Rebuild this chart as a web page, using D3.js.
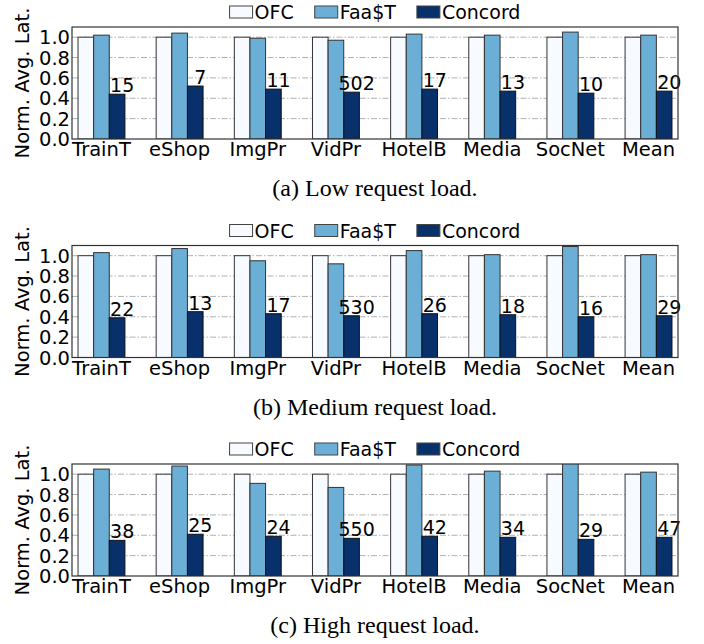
<!DOCTYPE html>
<html>
<head>
<meta charset="utf-8">
<script src="https://cdn.jsdelivr.net/npm/d3@7"></script>
<style>
  body { margin: 0; background: #fff; }
  svg { display: block; }
  .sans { font-family: "DejaVu Sans", sans-serif; }
  .serif { font-family: "Liberation Serif", "Times New Roman", serif; }
</style>
</head>
<body>
<script>
const width = 704;
const height = 644;

const apps = ["TrainT", "eShop", "ImgPr", "VidPr", "HotelB", "Media", "SocNet", "Mean"];
const series = ["OFC", "Faa$T", "Concord"];
const colors = ["#f7fbff", "#6baed6", "#08306b"];
const yTicks = [0.0, 0.2, 0.4, 0.6, 0.8, 1.0];

// low load
const ofcLow = [1, 1, 1, 1, 1, 1, 1, 1];
const faastLow = [1.02, 1.04, 0.99, 0.97, 1.03, 1.02, 1.05, 1.02];
const concordLow = [0.44, 0.52, 0.49, 0.46, 0.49, 0.47, 0.45, 0.47];
const concordLowLabels = ["15", "7", "11", "502", "17", "13", "10", "20"];

// medium load
const ofcMed = [1, 1, 1, 1, 1, 1, 1, 1];
const faastMed = [1.03, 1.07, 0.95, 0.92, 1.05, 1.01, 1.09, 1.01];
const concordMed = [0.39, 0.45, 0.43, 0.41, 0.43, 0.42, 0.40, 0.41];
const concordMedLabels = ["22", "13", "17", "530", "26", "18", "16", "29"];

// high load
const ofcHigh = [1, 1, 1, 1, 1, 1, 1, 1];
const faastHigh = [1.05, 1.08, 0.91, 0.87, 1.09, 1.03, 1.12, 1.02];
const concordHigh = [0.35, 0.41, 0.39, 0.37, 0.39, 0.38, 0.36, 0.38];
const concordHighLabels = ["38", "25", "24", "550", "42", "34", "29", "47"];

const panels = [
  { top: 27, vals: [ofcLow, faastLow, concordLow], labels: concordLowLabels, caption: "(a) Low request load." },
  { top: 245.5, vals: [ofcMed, faastMed, concordMed], labels: concordMedLabels, caption: "(b) Medium request load." },
  { top: 464, vals: [ofcHigh, faastHigh, concordHigh], labels: concordHighLabels, caption: "(c) High request load." }
];

const left = 72, right = 678, axH = 112;
const barW = 0.2;

const svg = d3.select("body")
  .append("svg")
  .attr("width", width)
  .attr("height", height);

const x = d3.scaleLinear().domain([-0.377, 7.377]).range([0, right - left]);
const y = d3.scaleLinear().domain([0, 1.1]).range([axH, 0]);

panels.forEach((p, pi) => {
  const g = svg.append("g").attr("transform", `translate(${left},${p.top})`);

  g.append("clipPath").attr("id", "clip" + pi)
    .append("rect").attr("width", right - left).attr("height", axH);

  // grid
  g.selectAll(".grid")
    .data(yTicks.slice(1))
    .enter().append("line")
    .attr("x1", 0).attr("x2", right - left)
    .attr("y1", d => y(d)).attr("y2", d => y(d))
    .attr("stroke", "#b0b0b0")
    .attr("stroke-width", 1)
    .attr("stroke-dasharray", "6,2,1.5,2");

  // bars
  const bars = g.append("g").attr("clip-path", `url(#clip${pi})`);
  series.forEach((s, j) => {
    bars.selectAll(".bar" + j)
      .data(p.vals[j])
      .enter().append("rect")
      .attr("x", (d, i) => x(i + (j - 1) * barW - barW / 2))
      .attr("y", d => y(d))
      .attr("width", x(barW) - x(0))
      .attr("height", d => y(0) - y(d))
      .attr("fill", colors[j])
      .attr("stroke", j === 2 ? "#111" : "#333")
      .attr("stroke-width", 1);
  });

  // value labels above Concord
  g.selectAll(".vlab")
    .data(p.vals[2])
    .enter().append("text")
    .attr("class", "sans")
    .attr("x", (d, i) => x(i + barW + 0.065))
    .attr("y", d => y(d) - 2)
    .attr("text-anchor", "middle")
    .attr("font-size", 19)
    .attr("fill", "#000")
    .text((d, i) => p.labels[i]);

  // frame
  g.append("rect")
    .attr("width", right - left).attr("height", axH)
    .attr("fill", "none")
    .attr("stroke", "#333")
    .attr("stroke-width", 1.2);

  // y ticks
  g.selectAll(".ytl")
    .data(yTicks)
    .enter().append("text")
    .attr("class", "sans")
    .attr("x", -2)
    .attr("y", d => y(d))
    .attr("dy", "0.36em")
    .attr("text-anchor", "end")
    .attr("font-size", 19.5)
    .text(d => d.toFixed(1));

  // x ticks
  g.selectAll(".xtl")
    .data(apps)
    .enter().append("text")
    .attr("class", "sans")
    .attr("x", (d, i) => x(i))
    .attr("y", axH + 17)
    .attr("text-anchor", "middle")
    .attr("font-size", 19.5)
    .text(d => d);

  // y label
  g.append("text")
    .attr("class", "sans")
    .attr("transform", `translate(${29 - left},${axH / 2}) rotate(-90)`)
    .attr("text-anchor", "middle")
    .attr("font-size", 19.5)
    .text("Norm. Avg. Lat.");

  // legend
  const leg = g.append("g");
  let cx = 0;
  series.forEach((s, j) => {
    const item = leg.append("g").attr("transform", `translate(${cx},0)`);
    item.append("rect")
      .attr("x", 0).attr("y", -21)
      .attr("width", 23).attr("height", 12)
      .attr("fill", colors[j])
      .attr("stroke", "#444")
      .attr("stroke-width", 1);
    const t = item.append("text")
      .attr("class", "sans")
      .attr("x", 25).attr("y", -8)
      .attr("font-size", 19)
      .text(s);
    cx += 25 + t.node().getComputedTextLength() + (j < series.length - 1 ? 21 : 0);
  });
  leg.attr("transform", `translate(${(right - left) / 2 - cx / 2},0)`);

  // caption
  g.append("text")
    .attr("class", "serif")
    .attr("x", (right - left) / 2)
    .attr("y", axH + 57)
    .attr("text-anchor", "middle")
    .attr("font-size", 24)
    .text(p.caption);
});
</script>
</body>
</html>
